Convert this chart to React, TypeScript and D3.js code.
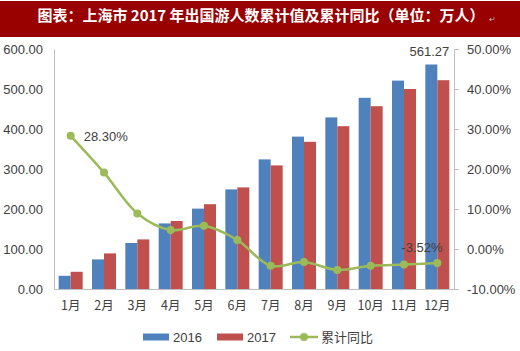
import React, { useRef, useEffect } from "react";
import {
  select,
  scaleBand,
  scaleLinear,
  axisBottom,
  axisLeft,
  axisRight,
  line,
  curveCatmullRom,
} from "d3";

const months = ["1月", "2月", "3月", "4月", "5月", "6月", "7月", "8月", "9月", "10月", "11月", "12月"];
const values2016 = [33, 74, 115, 164, 201, 249, 324, 381, 429, 478, 521, 561.27];
const values2017 = [43, 89, 124, 170, 212, 254, 309, 368, 407, 457, 500, 522];
const growth = [28.3, 19.1, 8.9, 4.75, 5.8, 2.25, -4.2, -3.25, -5.25, -4.2, -3.9, -3.52];
const leftTicks = [0, 100, 200, 300, 400, 500, 600];
const rightTicks = [-10, 0, 10, 20, 30, 40, 50];

const W = 520;
const H = 351;
const margin = { top: 49, right: 66, bottom: 62, left: 54 };
const BLUE = "#4F81BD";
const RED = "#C0504D";
const GREEN = "#9BBB59";
const TEXT = "#404040";
const NUM_FONT = "'Liberation Sans', Arial, sans-serif";
const CJK_FONT = "'Noto Sans CJK SC', sans-serif";

const Chart: React.FC = () => {
  const svgRef = useRef<SVGSVGElement>(null);

  useEffect(() => {
    const svg = select(svgRef.current);
    svg.selectAll("*").remove();

    const innerW = W - margin.left - margin.right;
    const innerH = H - margin.top - margin.bottom;

    // 标题栏
    svg.append("rect").attr("x", 0).attr("y", 1).attr("width", W).attr("height", 36).attr("fill", "#990000");
    svg
      .append("text")
      .attr("x", 261)
      .attr("y", 21)
      .attr("text-anchor", "middle")
      .attr("fill", "#fff")
      .attr("font-family", CJK_FONT)
      .attr("font-weight", "bold")
      .attr("font-size", 15)
      .text("图表：上海市 2017 年出国游人数累计值及累计同比（单位：万人）");
    svg
      .append("text")
      .attr("x", 489)
      .attr("y", 22)
      .attr("fill", "#bbb")
      .attr("font-size", 8)
      .attr("font-family", NUM_FONT)
      .text("↵");

    const x = scaleBand<string>().domain(months).range([0, innerW]).paddingInner(0.28).paddingOuter(0.14);
    const yL = scaleLinear().domain([0, 600]).range([innerH, 0]);
    const yR = scaleLinear().domain([-10, 50]).range([innerH, 0]);

    const g = svg.append("g").attr("transform", `translate(${margin.left},${margin.top})`);

    // 柱
    const bw = x.bandwidth() / 2;
    months.forEach((m, i) => {
      g.append("rect")
        .attr("x", x(m)!)
        .attr("y", yL(values2016[i]))
        .attr("width", bw)
        .attr("height", innerH - yL(values2016[i]))
        .attr("fill", BLUE);
      g.append("rect")
        .attr("x", x(m)! + bw)
        .attr("y", yL(values2017[i]))
        .attr("width", bw)
        .attr("height", innerH - yL(values2017[i]))
        .attr("fill", RED);
    });

    // 坐标轴
    const axL = g.append("g").call(axisLeft(yL).tickValues(leftTicks).tickSize(0).tickPadding(11).tickFormat((d) => (d as number).toFixed(2)));
    const axR = g
      .append("g")
      .attr("transform", `translate(${innerW},0)`)
      .call(axisRight(yR).tickValues(rightTicks).tickSize(5).tickPadding(8).tickFormat((d) => (d as number).toFixed(2) + "%"));
    const axB = g
      .append("g")
      .attr("transform", `translate(0,${innerH})`)
      .call(axisBottom(x).tickSize(0).tickPadding(12));

    [axL, axR, axB].forEach((a) => {
      a.select(".domain").attr("stroke", "#BFBFBF");
      a.selectAll(".tick line").attr("stroke", "#BFBFBF");
      a.selectAll("text").attr("fill", TEXT).attr("font-size", 13).attr("font-family", NUM_FONT);
    });
    axB.selectAll("text").attr("font-size", 12.5).attr("font-family", CJK_FONT);

    // 累计同比线
    const cx = (i: number) => x(months[i])! + x.bandwidth() / 2;
    const lineGen = line<number>()
      .x((_, i) => cx(i))
      .y((d) => yR(d))
      .curve(curveCatmullRom);
    g.append("path").datum(growth).attr("fill", "none").attr("stroke", GREEN).attr("stroke-width", 2.5).attr("d", lineGen);
    g.selectAll(".dot")
      .data(growth)
      .enter()
      .append("circle")
      .attr("cx", (_, i) => cx(i))
      .attr("cy", (d) => yR(d))
      .attr("r", 4)
      .attr("fill", GREEN);

    // 数据标签
    const last = months.length - 1;
    g.append("text")
      .attr("x", cx(0) + 13)
      .attr("y", yR(growth[0]) + 5)
      .attr("fill", TEXT)
      .attr("font-size", 13)
      .attr("font-family", NUM_FONT)
      .text(growth[0].toFixed(2) + "%");
    g.append("text")
      .attr("x", cx(last) - 36)
      .attr("y", yR(growth[last]) - 11)
      .attr("fill", TEXT)
      .attr("font-size", 13)
      .attr("font-family", NUM_FONT)
      .text(growth[last].toFixed(2) + "%");
    g.append("text")
      .attr("x", x(months[last])! + bw / 2 - 2)
      .attr("y", yL(values2016[last]) - 9)
      .attr("text-anchor", "middle")
      .attr("fill", TEXT)
      .attr("font-size", 13)
      .attr("font-family", NUM_FONT)
      .text(values2016[last].toFixed(2));

    // 图例
    const lg = svg.append("g").attr("transform", "translate(0,337)");
    lg.append("rect").attr("x", 143).attr("y", -3.5).attr("width", 26).attr("height", 7).attr("fill", BLUE);
    lg.append("text").attr("x", 173).attr("y", 5).attr("fill", TEXT).attr("font-size", 13).attr("font-family", NUM_FONT).text("2016");
    lg.append("rect").attr("x", 217).attr("y", -3.5).attr("width", 26).attr("height", 7).attr("fill", RED);
    lg.append("text").attr("x", 247).attr("y", 5).attr("fill", TEXT).attr("font-size", 13).attr("font-family", NUM_FONT).text("2017");
    lg.append("line").attr("x1", 290).attr("x2", 318).attr("y1", 0).attr("y2", 0).attr("stroke", GREEN).attr("stroke-width", 2.5);
    lg.append("circle").attr("cx", 304).attr("cy", 0).attr("r", 4).attr("fill", GREEN);
    lg.append("text").attr("x", 321).attr("y", 5).attr("fill", TEXT).attr("font-size", 13).attr("font-family", CJK_FONT).text("累计同比");
  }, []);

  return <svg ref={svgRef} width={W} height={H} style={{ display: "block", background: "#fff" }} />;
};

export default function App() {
  return (
    <div style={{ position: "absolute", left: 0, top: 0 }}>
      <Chart />
    </div>
  );
}
